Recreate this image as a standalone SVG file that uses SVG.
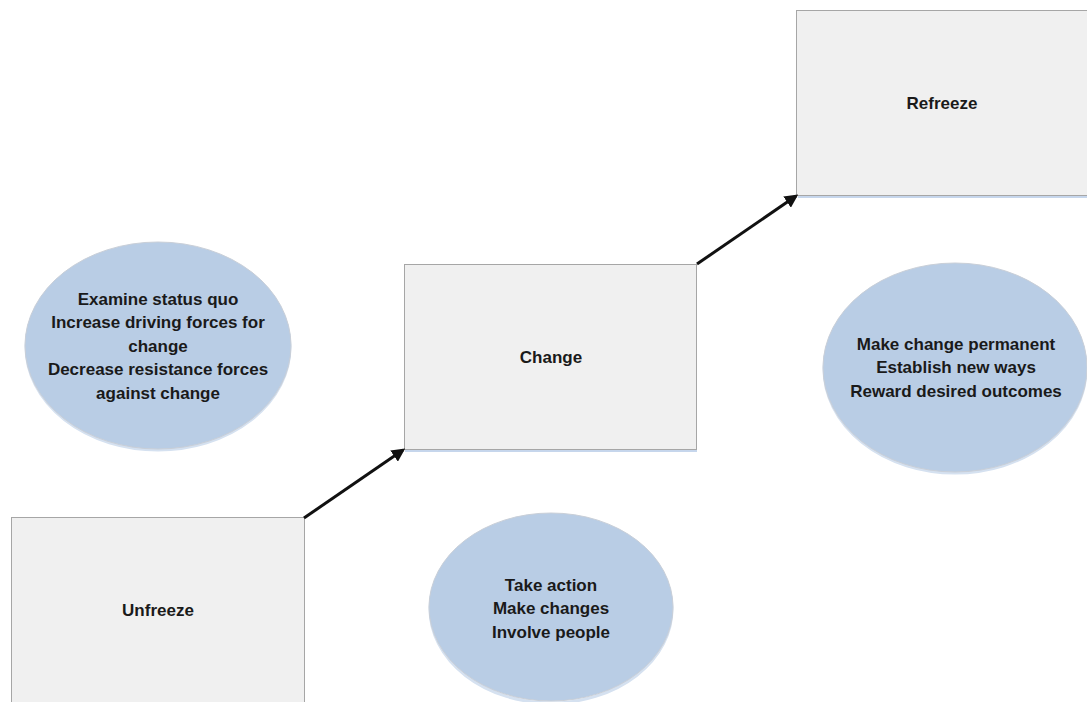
<svg xmlns="http://www.w3.org/2000/svg" width="1087" height="702" viewBox="0 0 1087 702">
  <style>
    .box { fill: #F0F0F0; stroke: #A6A6A6; stroke-width: 1; }
    .boxshadow { fill: none; stroke: #C6D6EC; stroke-width: 2; }
    .oval { fill: #B9CDE5; stroke: #C9CFD8; stroke-width: 1; }
    .ovalshadow { fill: none; stroke: #D5E1F0; stroke-width: 3; }
    .label { font-family: "Liberation Sans", Arial, sans-serif; font-weight: bold; font-size: 17px; fill: #1A1A1A; text-anchor: middle; }
    .link { stroke: #111111; stroke-width: 3; fill: none; marker-end: url(#arrow); }
  </style>
  <defs>
    <marker id="arrow" viewBox="0 0 10 10" refX="8" refY="5" markerWidth="4.5" markerHeight="4.5" orient="auto" markerUnits="strokeWidth">
      <path d="M0,0 L10,5 L0,10 z" fill="#111111"/>
    </marker>
  </defs>
  <rect width="1087" height="702" fill="#FFFFFF"/>

  <!-- stage boxes -->
  <g id="unfreeze">
    <rect class="box" x="11.5" y="517.5" width="293" height="200"/>
    <text class="label" x="158" y="616">Unfreeze</text>
  </g>
  <g id="change">
    <line class="boxshadow" x1="405" y1="451" x2="697" y2="451"/>
    <rect class="box" x="404.5" y="264.5" width="292" height="185"/>
    <text class="label" x="551" y="363">Change</text>
  </g>
  <g id="refreeze">
    <line class="boxshadow" x1="798" y1="197" x2="1087" y2="197"/>
    <rect class="box" x="796.5" y="10.5" width="300" height="185"/>
    <text class="label" x="942" y="109">Refreeze</text>
  </g>

  <!-- activity ovals -->
  <g id="unfreeze-actions">
    <ellipse class="ovalshadow" cx="158" cy="347" rx="132" ry="103"/>
    <ellipse class="oval" cx="158" cy="345.5" rx="133" ry="103.5"/>
    <text class="label" x="158" y="305">Examine status quo</text>
    <text class="label" x="158" y="328">Increase driving forces for</text>
    <text class="label" x="158" y="352">change</text>
    <text class="label" x="158" y="375">Decrease resistance forces</text>
    <text class="label" x="158" y="399">against change</text>
  </g>
  <g id="change-actions">
    <ellipse class="ovalshadow" cx="551" cy="609" rx="121" ry="94"/>
    <ellipse class="oval" cx="551" cy="607" rx="122" ry="94"/>
    <text class="label" x="551" y="591">Take action</text>
    <text class="label" x="551" y="614">Make changes</text>
    <text class="label" x="551" y="638">Involve people</text>
  </g>
  <g id="refreeze-actions">
    <ellipse class="ovalshadow" cx="955" cy="369" rx="131" ry="104"/>
    <ellipse class="oval" cx="955" cy="367.5" rx="132" ry="104.5"/>
    <text class="label" x="956" y="350">Make change permanent</text>
    <text class="label" x="956" y="373">Establish new ways</text>
    <text class="label" x="956" y="397">Reward desired outcomes</text>
  </g>

  <!-- connectors -->
  <g id="connectors">
    <line class="link" x1="304" y1="518" x2="403" y2="450"/>
    <line class="link" x1="697" y1="264" x2="796" y2="196"/>
  </g>
</svg>
